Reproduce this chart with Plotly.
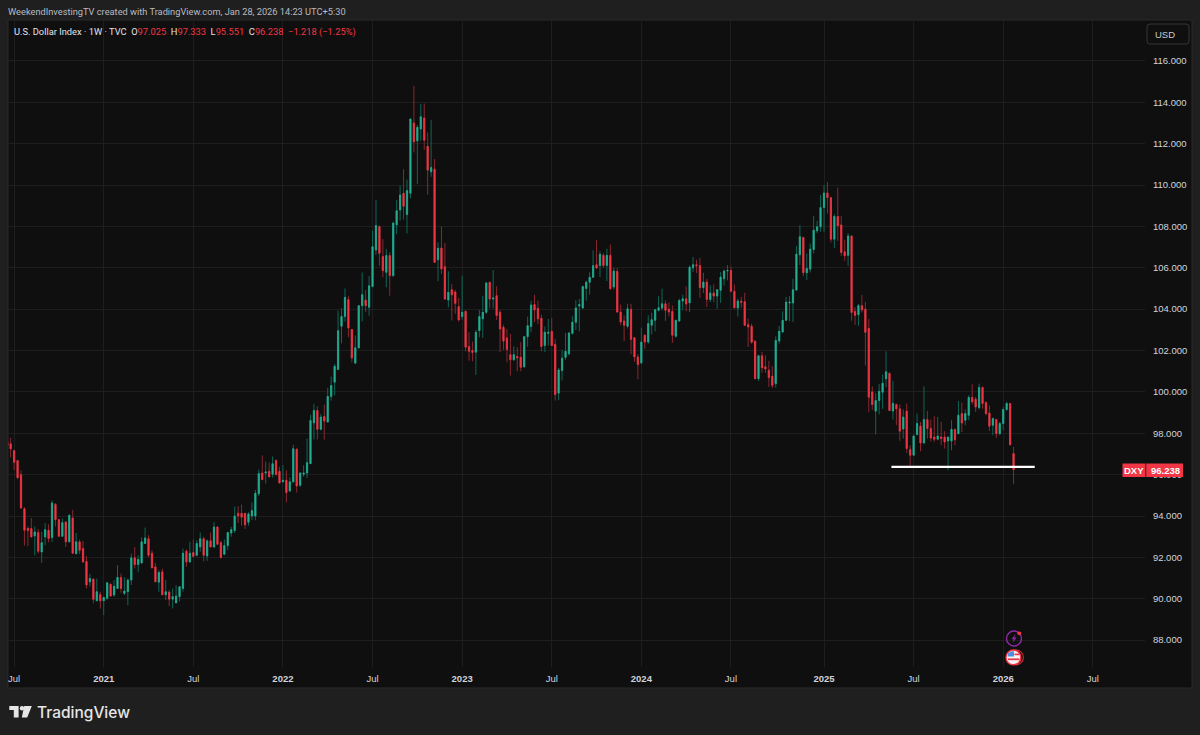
"""U.S. Dollar Index weekly candles, TradingView dark screenshot style."""

import pandas as pd
import plotly.graph_objects as go

FIRST_WEEK = "2020-06-22"

OPENS = [
    97.60, 97.49, 97.16, 96.68, 96.00, 94.35, 93.40, 93.39, 93.04, 93.20,
    92.26, 92.99, 93.31, 92.96, 94.56, 93.82, 93.02, 93.71, 92.75, 93.90,
    92.18, 92.75, 92.43, 91.80, 90.82, 90.95, 89.90, 90.20, 89.90, 90.02,
    90.70, 90.18, 90.50, 91.03, 90.26, 90.34, 90.90, 91.98, 91.65, 91.73,
    92.67, 92.90, 92.20, 91.54, 90.80, 91.30, 90.19, 90.32, 89.98, 89.80,
    90.10, 90.50, 92.30, 91.78, 92.23, 92.10, 92.50, 92.90, 92.07, 92.80,
    92.50, 93.47, 92.71, 92.15, 92.57, 93.18, 93.30, 94.13, 94.13, 94.13,
    93.70, 94.00, 94.00, 95.08, 96.08, 96.08, 96.16, 96.02, 96.69, 96.16,
    95.65, 95.73, 95.21, 95.65, 97.22, 95.49, 96.02, 96.08, 96.53, 98.50,
    99.10, 98.19, 98.81, 98.54, 99.78, 100.47, 101.08, 103.17, 103.65, 104.46,
    103.01, 101.39, 102.13, 104.17, 104.44, 104.09, 105.09, 106.86, 107.99, 106.54,
    105.78, 106.59, 105.62, 108.08, 108.79, 109.60, 108.57, 109.60, 113.00, 112.14,
    112.71, 113.24, 111.87, 110.64, 110.77, 106.39, 106.96, 106.05, 104.44, 104.94,
    104.83, 104.12, 103.64, 103.90, 102.19, 102.00, 101.92, 102.96, 103.53, 103.85,
    105.30, 104.49, 104.65, 103.85, 103.12, 102.61, 101.80, 101.55, 101.71, 101.67,
    101.22, 102.67, 103.16, 104.22, 104.04, 103.56, 102.24, 102.83, 102.93, 102.29,
    99.94, 101.03, 101.67, 101.84, 102.83, 103.37, 104.15, 104.06, 105.00, 105.30,
    105.54, 106.15, 106.11, 106.60, 106.11, 106.60, 105.07, 105.82, 103.86, 103.43,
    103.17, 103.99, 102.62, 101.69, 101.40, 102.74, 102.41, 103.22, 103.46, 103.94,
    104.05, 104.26, 103.99, 103.89, 102.69, 103.43, 104.39, 104.50, 104.30, 106.00,
    106.15, 106.11, 105.04, 105.31, 104.47, 104.78, 104.63, 104.91, 105.47, 105.84,
    105.87, 104.86, 104.05, 104.38, 104.36, 103.25, 103.17, 102.45, 100.64, 101.75,
    101.21, 101.05, 100.76, 100.40, 102.46, 102.90, 103.46, 104.30, 104.30, 104.92,
    106.63, 107.46, 105.76, 105.93, 106.88, 107.79, 107.98, 108.91, 109.62, 109.39,
    107.38, 108.48, 108.07, 106.77, 106.60, 107.54, 103.89, 103.73, 104.17, 104.00,
    103.07, 100.00, 99.07, 99.58, 99.98, 100.63, 100.90, 99.07, 99.39, 99.18,
    98.21, 99.07, 97.21, 96.94, 97.94, 98.35, 97.53, 98.66, 98.23, 97.82,
    97.71, 97.82, 97.82, 97.63, 97.63, 98.18, 97.98, 98.95, 98.63, 98.87,
    99.73, 99.65, 99.24, 100.21, 99.48, 98.98, 98.39, 98.66, 97.98, 98.47,
    99.15, 99.44, 97.025,
]
HIGHS = [
    97.68, 97.78, 97.20, 96.71, 96.20, 94.43, 93.50, 93.90, 93.50, 93.37,
    93.23, 93.66, 93.60, 94.75, 94.63, 93.87, 93.87, 93.76, 94.10, 94.30,
    93.18, 92.86, 92.80, 92.06, 91.20, 90.98, 90.98, 90.34, 90.10, 90.79,
    90.74, 90.90, 91.62, 91.22, 91.03, 90.98, 92.18, 92.50, 92.10, 92.96,
    93.44, 93.07, 92.34, 91.73, 91.38, 91.45, 90.90, 90.42, 90.50, 90.65,
    90.60, 92.43, 92.38, 92.75, 92.86, 92.83, 93.20, 93.00, 92.86, 93.20,
    93.70, 93.50, 92.80, 92.86, 93.23, 93.47, 94.45, 94.47, 94.55, 94.13,
    94.18, 94.66, 95.26, 96.24, 96.93, 96.64, 96.58, 96.88, 96.72, 96.37,
    96.45, 96.21, 95.86, 97.45, 97.30, 96.13, 96.45, 97.74, 98.89, 99.42,
    99.30, 98.94, 99.38, 100.20, 100.74, 101.35, 103.93, 104.04, 105.00, 104.62,
    103.04, 102.72, 104.20, 105.77, 104.92, 105.60, 107.79, 109.29, 108.04, 107.39,
    106.91, 106.75, 108.23, 109.28, 109.97, 110.77, 110.26, 113.24, 114.80, 112.90,
    113.91, 113.94, 112.54, 113.14, 111.26, 107.23, 108.00, 107.20, 105.83, 105.22,
    104.93, 104.54, 105.62, 103.93, 102.88, 102.43, 103.00, 103.96, 104.65, 105.30,
    105.33, 105.89, 105.10, 103.96, 103.24, 103.04, 102.80, 102.20, 102.16, 102.40,
    102.67, 103.64, 104.41, 104.70, 104.41, 103.74, 103.16, 103.53, 103.57, 102.56,
    101.16, 102.03, 102.85, 102.88, 103.66, 104.44, 104.49, 105.14, 105.38, 105.78,
    106.84, 107.34, 106.80, 106.71, 106.92, 107.13, 106.00, 105.99, 104.22, 103.70,
    104.26, 104.26, 102.65, 101.82, 103.10, 102.77, 103.70, 103.83, 104.02, 104.63,
    104.99, 104.42, 104.33, 104.18, 103.49, 104.51, 104.70, 105.10, 106.11, 106.52,
    106.39, 106.48, 105.76, 105.47, 105.15, 105.20, 104.94, 105.79, 105.91, 106.13,
    106.07, 105.20, 104.50, 104.59, 104.79, 103.54, 103.30, 102.49, 101.77, 101.93,
    101.77, 101.50, 101.24, 102.69, 103.19, 103.89, 104.59, 104.63, 105.47, 107.06,
    108.06, 107.50, 106.69, 107.17, 108.50, 108.27, 109.52, 110.00, 110.15, 109.43,
    108.59, 109.88, 108.51, 107.35, 107.67, 107.54, 104.09, 104.25, 104.68, 104.36,
    103.52, 100.26, 99.94, 100.39, 100.84, 101.96, 100.92, 100.53, 99.44, 99.39,
    99.15, 99.44, 97.42, 97.94, 98.95, 98.55, 100.27, 99.08, 98.66, 98.82,
    98.79, 98.55, 98.10, 97.82, 98.63, 98.22, 99.56, 99.48, 99.15, 99.84,
    100.37, 99.76, 100.40, 100.27, 99.56, 99.35, 98.76, 98.71, 98.55, 99.27,
    99.52, 99.47, 97.333,
]
LOWS = [
    97.36, 96.84, 96.23, 95.78, 94.35, 92.57, 92.54, 92.96, 92.10, 92.18,
    91.73, 92.59, 92.73, 92.75, 93.50, 93.02, 93.00, 92.50, 92.73, 92.18,
    92.14, 92.16, 91.73, 90.50, 90.60, 89.78, 89.89, 89.53, 89.21, 89.94,
    90.10, 90.10, 90.50, 90.29, 90.18, 89.69, 90.66, 91.46, 91.30, 91.70,
    92.67, 92.00, 91.46, 90.80, 90.34, 90.18, 89.94, 89.65, 89.53, 89.80,
    89.87, 90.34, 91.54, 91.73, 92.00, 92.05, 92.27, 91.80, 91.83, 92.50,
    92.47, 92.60, 91.94, 92.10, 92.35, 93.00, 93.18, 93.66, 93.53, 93.37,
    93.53, 93.80, 93.80, 94.96, 95.73, 95.57, 95.89, 95.86, 95.97, 95.57,
    95.65, 94.65, 95.16, 95.60, 95.13, 95.40, 95.90, 95.84, 96.53, 97.70,
    97.70, 98.14, 97.69, 98.54, 99.58, 99.83, 101.06, 102.35, 103.40, 102.64,
    101.43, 101.39, 102.08, 103.41, 103.85, 103.68, 105.06, 106.62, 106.10, 105.54,
    105.06, 104.65, 105.57, 107.63, 108.28, 108.33, 107.66, 109.36, 111.58, 110.05,
    112.14, 111.70, 109.53, 110.40, 106.26, 105.35, 105.70, 104.44, 104.09, 103.45,
    103.77, 103.40, 103.48, 101.96, 101.51, 101.48, 100.82, 102.64, 102.61, 103.77,
    104.04, 104.04, 103.48, 101.92, 102.03, 101.43, 100.79, 101.51, 101.00, 101.00,
    101.16, 102.19, 102.88, 103.37, 103.28, 101.96, 101.92, 102.24, 102.24, 99.58,
    99.60, 100.55, 101.55, 101.76, 102.77, 103.00, 102.93, 104.00, 104.41, 104.70,
    105.51, 105.94, 105.55, 106.00, 105.36, 104.94, 104.95, 103.83, 103.22, 102.46,
    103.06, 101.82, 101.45, 100.61, 101.34, 102.09, 102.33, 102.78, 102.93, 103.90,
    103.94, 103.43, 103.65, 102.37, 102.62, 103.38, 103.94, 103.90, 103.86, 105.79,
    105.74, 104.54, 104.78, 104.10, 104.34, 104.34, 104.02, 104.30, 105.15, 105.39,
    104.83, 104.02, 103.65, 104.07, 103.17, 102.17, 102.33, 100.61, 100.53, 100.92,
    100.92, 100.24, 100.19, 100.21, 102.33, 102.85, 103.43, 103.41, 103.38, 104.89,
    106.13, 105.60, 105.40, 105.77, 106.69, 107.67, 107.74, 107.74, 108.62, 107.22,
    106.95, 107.30, 106.58, 106.34, 106.10, 103.44, 103.23, 103.20, 103.84, 101.27,
    99.02, 99.13, 97.94, 98.91, 99.18, 100.23, 99.07, 98.66, 98.39, 97.63,
    97.74, 97.05, 96.40, 96.90, 97.90, 97.13, 97.50, 97.74, 97.61, 97.58,
    97.66, 97.42, 97.26, 96.21, 97.18, 97.42, 97.95, 98.06, 98.39, 98.63,
    99.40, 99.03, 99.15, 99.19, 98.87, 98.11, 97.90, 97.77, 97.90, 98.15,
    99.08, 97.42, 95.551,
]
CLOSES = [
    97.40, 97.25, 96.60, 95.85, 94.39, 93.31, 93.30, 92.99, 93.23, 92.30,
    92.71, 93.34, 92.91, 94.63, 93.82, 93.02, 93.68, 92.75, 94.03, 92.20,
    92.75, 92.34, 91.78, 90.67, 90.98, 89.97, 90.34, 89.90, 90.06, 90.77,
    90.13, 90.60, 91.03, 90.50, 90.37, 90.90, 91.98, 91.65, 91.90, 92.75,
    92.94, 92.10, 91.50, 90.82, 91.27, 90.19, 90.34, 89.98, 90.10, 90.13,
    90.58, 92.20, 91.78, 92.20, 92.05, 92.67, 92.90, 92.10, 92.80, 92.50,
    93.47, 92.63, 91.99, 92.57, 93.20, 93.34, 94.00, 94.00, 93.94, 93.58,
    94.10, 94.26, 95.10, 96.05, 95.76, 96.13, 95.89, 96.53, 96.00, 95.60,
    95.73, 95.13, 95.65, 97.25, 95.45, 96.08, 96.08, 96.58, 98.62, 99.10,
    98.19, 98.78, 98.59, 99.78, 100.31, 101.24, 102.96, 103.65, 104.57, 103.09,
    101.64, 102.13, 104.17, 104.70, 104.17, 105.13, 107.02, 108.04, 106.70, 105.86,
    106.59, 105.62, 108.16, 108.76, 109.52, 108.97, 109.73, 113.19, 112.09, 112.79,
    113.30, 112.17, 110.72, 110.85, 106.26, 106.94, 105.94, 104.49, 104.81, 104.69,
    104.28, 103.48, 103.85, 102.16, 101.96, 101.90, 102.88, 103.64, 103.85, 105.27,
    104.49, 104.54, 103.69, 103.04, 102.45, 102.05, 101.55, 101.80, 101.64, 101.19,
    102.67, 103.20, 104.20, 103.96, 103.53, 102.19, 102.88, 102.88, 102.24, 99.87,
    101.06, 101.63, 101.96, 102.85, 103.37, 104.06, 104.22, 105.09, 105.30, 105.54,
    106.10, 105.99, 106.65, 106.11, 106.60, 104.99, 105.84, 103.86, 103.38, 103.22,
    104.02, 102.54, 101.69, 101.32, 102.41, 102.41, 103.30, 103.49, 103.97, 104.07,
    104.26, 103.94, 103.86, 102.74, 103.46, 104.42, 104.50, 104.25, 106.03, 106.15,
    106.10, 105.04, 105.31, 104.47, 104.78, 104.63, 104.94, 105.55, 105.84, 105.87,
    104.86, 104.07, 104.39, 104.33, 103.22, 103.14, 102.40, 100.64, 101.75, 101.17,
    101.11, 100.69, 100.32, 102.49, 102.93, 103.46, 104.34, 104.34, 104.94, 106.66,
    107.50, 105.76, 105.97, 106.90, 107.82, 107.98, 108.91, 109.62, 109.39, 107.38,
    108.48, 108.03, 106.74, 106.58, 107.54, 103.84, 103.70, 104.17, 103.97, 102.88,
    99.74, 99.39, 99.58, 100.03, 100.42, 100.97, 99.10, 99.45, 99.18, 98.10,
    98.78, 97.26, 96.94, 97.87, 98.47, 97.53, 98.66, 98.23, 97.77, 97.71,
    97.87, 97.74, 97.58, 97.82, 98.19, 97.69, 98.87, 98.50, 98.95, 99.73,
    99.52, 99.27, 100.21, 99.44, 98.95, 98.34, 98.71, 97.98, 98.47, 99.15,
    99.44, 97.44, 96.238,
]

X_TICK_DATES = [
    "2020-07-06", "2021-01-04", "2021-07-05", "2022-01-03", "2022-07-04", "2023-01-02", "2023-07-03",
    "2024-01-01", "2024-07-01", "2025-01-06", "2025-07-07", "2026-01-05", "2026-07-06",
]
X_TICK_LABELS = [
    "Jul", "<b>2021</b>", "Jul", "<b>2022</b>", "Jul", "<b>2023</b>", "Jul",
    "<b>2024</b>", "Jul", "<b>2025</b>", "Jul", "<b>2026</b>", "Jul",
]

SUPPORT_DATES = ["2025-05-23", "2026-03-10"]
SUPPORT_PRICE = [96.37, 96.37]

PALETTE = {
    "page": "#1f1f1f",
    "panel": "#0f0f0f",
    "border": "#2b2b2b",
    "grid": "#1e1e1e",
    "text": "#d1d4dc",
    "up": "#27ae92",
    "up_wick": "#0d6757",
    "down": "#f23645",
    "down_wick": "#8a2731",
}
FONT = "Liberation Sans"

# plot area inside the 1200x735 page, in page pixels
LEFT, RIGHT, TOP, BOTTOM = 8, 1145, 21, 667


def px(x):
    return (x - LEFT) / (RIGHT - LEFT)


def py(y):
    return (BOTTOM - y) / (BOTTOM - TOP)


def poly(points):
    parts = [f"{'M' if i == 0 else 'L'} {px(x):.5f} {py(y):.5f}" for i, (x, y) in enumerate(points)]
    return " ".join(parts) + " Z"


def page_rect(x0, y0, x1, y1, **kw):
    return dict(type="rect", xref="paper", yref="paper", x0=px(x0), y0=py(y0), x1=px(x1), y1=py(y1), **kw)


def page_circle(cx, cy, r, **kw):
    return dict(type="circle", xref="paper", yref="paper",
                x0=px(cx - r), y0=py(cy - r), x1=px(cx + r), y1=py(cy + r), **kw)


def page_poly(points, color):
    return dict(type="path", xref="paper", yref="paper", path=poly(points),
                fillcolor=color, line={"width": 0})


def label(x, y, text, size, color, anchor="left", family=FONT, weight=None):
    font = {"family": family, "size": size, "color": color}
    if weight:
        font["weight"] = weight
    return dict(xref="paper", yref="paper", x=px(x), y=py(y), text=text, showarrow=False,
                xanchor=anchor, yanchor="middle", borderpad=0, borderwidth=0, font=font)


def build_shapes():
    line_none = {"width": 0}
    shapes = [
        page_rect(8, 20, 1192, 688, fillcolor=PALETTE["panel"], line={"color": PALETTE["border"], "width": 1},
                  layer="below"),
        # support line drawn on the chart
        dict(type="line", xref="x", yref="y", x0=SUPPORT_DATES[0], x1=SUPPORT_DATES[1],
             y0=SUPPORT_PRICE[0], y1=SUPPORT_PRICE[1], line={"color": "#ffffff", "width": 2.2}),
        # currency button
        dict(type="path", xref="paper", yref="paper",
             path=(f"M {px(1150)} {py(24)} L {px(1186)} {py(24)} Q {px(1189)} {py(24)} {px(1189)} {py(27)} "
                   f"L {px(1189)} {py(41)} Q {px(1189)} {py(44)} {px(1186)} {py(44)} L {px(1150)} {py(44)} "
                   f"Q {px(1147)} {py(44)} {px(1147)} {py(41)} L {px(1147)} {py(27)} Q {px(1147)} {py(24)} "
                   f"{px(1150)} {py(24)} Z"),
             line={"color": "#363636", "width": 1}),
        # last price tag
        page_rect(1122.5, 463.5, 1145.5, 477, fillcolor="#f23645", line=line_none),
        page_rect(1146.2, 463.5, 1183, 477, fillcolor="#f23645", line=line_none),
        # event icons
        page_circle(1014, 638.5, 7.5, line={"color": "#8e2aa8", "width": 1.4}),
        page_poly([(1015.5, 634), (1011.5, 639.2), (1013.8, 639.2), (1012.5, 643), (1016.6, 637.6),
                   (1014.3, 637.6)], "#8e2aa8"),
        page_circle(1019.3, 633.3, 1.9, fillcolor="#f23645", line=line_none),
        page_circle(1016, 657.4, 7.4, line={"color": "#c9283a", "width": 1.2}),
        page_circle(1013.4, 657.4, 7.4, fillcolor="#f4f4f4", line={"color": "#f23645", "width": 1.4}),
        page_poly([(1008, 653.5), (1011, 651.6), (1014, 651.2), (1014, 656.5), (1007.5, 656.5)], "#4a8fe0"),
        page_rect(1014.5, 653.6, 1019.4, 655.2, fillcolor="#e8364a", line=line_none),
        page_rect(1008, 658.4, 1019.4, 660.2, fillcolor="#e8364a", line=line_none),
        # TradingView mark
        page_poly([(9.3, 706), (18.6, 706), (18.6, 717.4), (13.8, 717.4), (13.8, 710), (9.3, 710)], "#e6e6e6"),
        page_circle(22, 708.2, 2.2, fillcolor="#e6e6e6", line=line_none),
        page_poly([(24.2, 706), (31.8, 706), (27.2, 717.4), (21.8, 717.4)], "#e6e6e6"),
    ]
    return shapes


def build_annotations():
    red = PALETTE["down"]
    ohlc = (
        "<span style='color:#e0e3eb'>U.S. Dollar Index · 1W · TVC  </span>"
        f"<span style='color:#e0e3eb'>O</span><span style='color:{red}'>97.025 </span>"
        f"<span style='color:#e0e3eb'> H</span><span style='color:{red}'>97.333 </span>"
        f"<span style='color:#e0e3eb'> L</span><span style='color:{red}'>95.551 </span>"
        f"<span style='color:#e0e3eb'> C</span><span style='color:{red}'>96.238  −1.218 (−1.25%)</span>"
    )
    return [
        label(8, 11, "WeekendInvestingTV created with TradingView.com, Jan 28, 2026 14:23 UTC+5:30", 9.25, "#b8bbc4",
              family="Roboto"),
        label(14, 32, ohlc, 9.3, "#e0e3eb", family="Roboto"),
        label(1155, 34, "USD", 9.5, "#c8cbd2"),
        label(1134, 470.3, "<b>DXY</b>", 9.5, "#ffffff", anchor="center"),
        label(1165, 470.3, "<b>96.238</b>", 9.5, "#ffffff", anchor="center"),
        label(37, 712, "TradingView", 15.5, "#e6e6e6", family="Inter", weight=500),
    ]


def build_figure():
    weeks = pd.date_range(FIRST_WEEK, periods=len(CLOSES), freq="W-MON")
    body_tops = [max(o, c) for o, c in zip(OPENS, CLOSES)]
    body_bottoms = [min(o, c) for o, c in zip(OPENS, CLOSES)]

    fig = go.Figure()
    # wicks are dimmer than the bodies, so they get their own trace underneath
    fig.add_trace(
        go.Candlestick(
            x=weeks, open=OPENS, high=HIGHS, low=LOWS, close=CLOSES,
            increasing={"line": {"color": PALETTE["up_wick"], "width": 1}, "fillcolor": PALETTE["up_wick"]},
            decreasing={"line": {"color": PALETTE["down_wick"], "width": 1}, "fillcolor": PALETTE["down_wick"]},
            whiskerwidth=0, showlegend=False,
        )
    )
    fig.add_trace(
        go.Candlestick(
            x=weeks, open=OPENS, high=body_tops, low=body_bottoms, close=CLOSES,
            increasing={"line": {"color": PALETTE["up"], "width": 0.6}, "fillcolor": PALETTE["up"]},
            decreasing={"line": {"color": PALETTE["down"], "width": 0.6}, "fillcolor": PALETTE["down"]},
            whiskerwidth=0, showlegend=False, hoverinfo="skip",
        )
    )
    fig.update_layout(
        width=1200,
        height=735,
        autosize=False,
        margin={"l": LEFT, "r": 1200 - RIGHT, "t": TOP, "b": 735 - BOTTOM, "pad": 0, "autoexpand": False},
        paper_bgcolor=PALETTE["page"],
        plot_bgcolor=PALETTE["panel"],
        font={"family": FONT, "size": 9.5, "color": PALETTE["text"]},
        boxmode="overlay",
        boxgap=0.5,
        showlegend=False,
        shapes=build_shapes(),
        annotations=build_annotations(),
        xaxis={
            "type": "date",
            "range": ["2020-06-23 14:00", "2026-10-20"],
            "rangeslider": {"visible": False},
            "tickmode": "array",
            "tickvals": X_TICK_DATES,
            "ticktext": X_TICK_LABELS,
            "showgrid": True,
            "gridcolor": PALETTE["grid"],
            "zeroline": False,
            "showline": False,
            "ticks": "outside",
            "ticklen": 3,
            "tickcolor": "rgba(0,0,0,0)",
            "tickfont": {"family": FONT, "size": 9.5, "color": PALETTE["text"]},
        },
        yaxis={
            "side": "right",
            "range": [86.70, 117.93],
            "tick0": 88,
            "dtick": 2,
            "tickformat": ".3f",
            "showgrid": True,
            "gridcolor": PALETTE["grid"],
            "zeroline": False,
            "showline": False,
            "ticks": "outside",
            "ticklen": 5,
            "tickcolor": "rgba(0,0,0,0)",
            "tickfont": {"family": FONT, "size": 9.5, "color": PALETTE["text"]},
        },
    )
    return fig


fig = build_figure()
# the page's default body margin would push the chart 8px off the window corner
fig.write_html(
    "out.html",
    config={"displayModeBar": False},
    post_script="document.body.style.margin = '0';",
)
